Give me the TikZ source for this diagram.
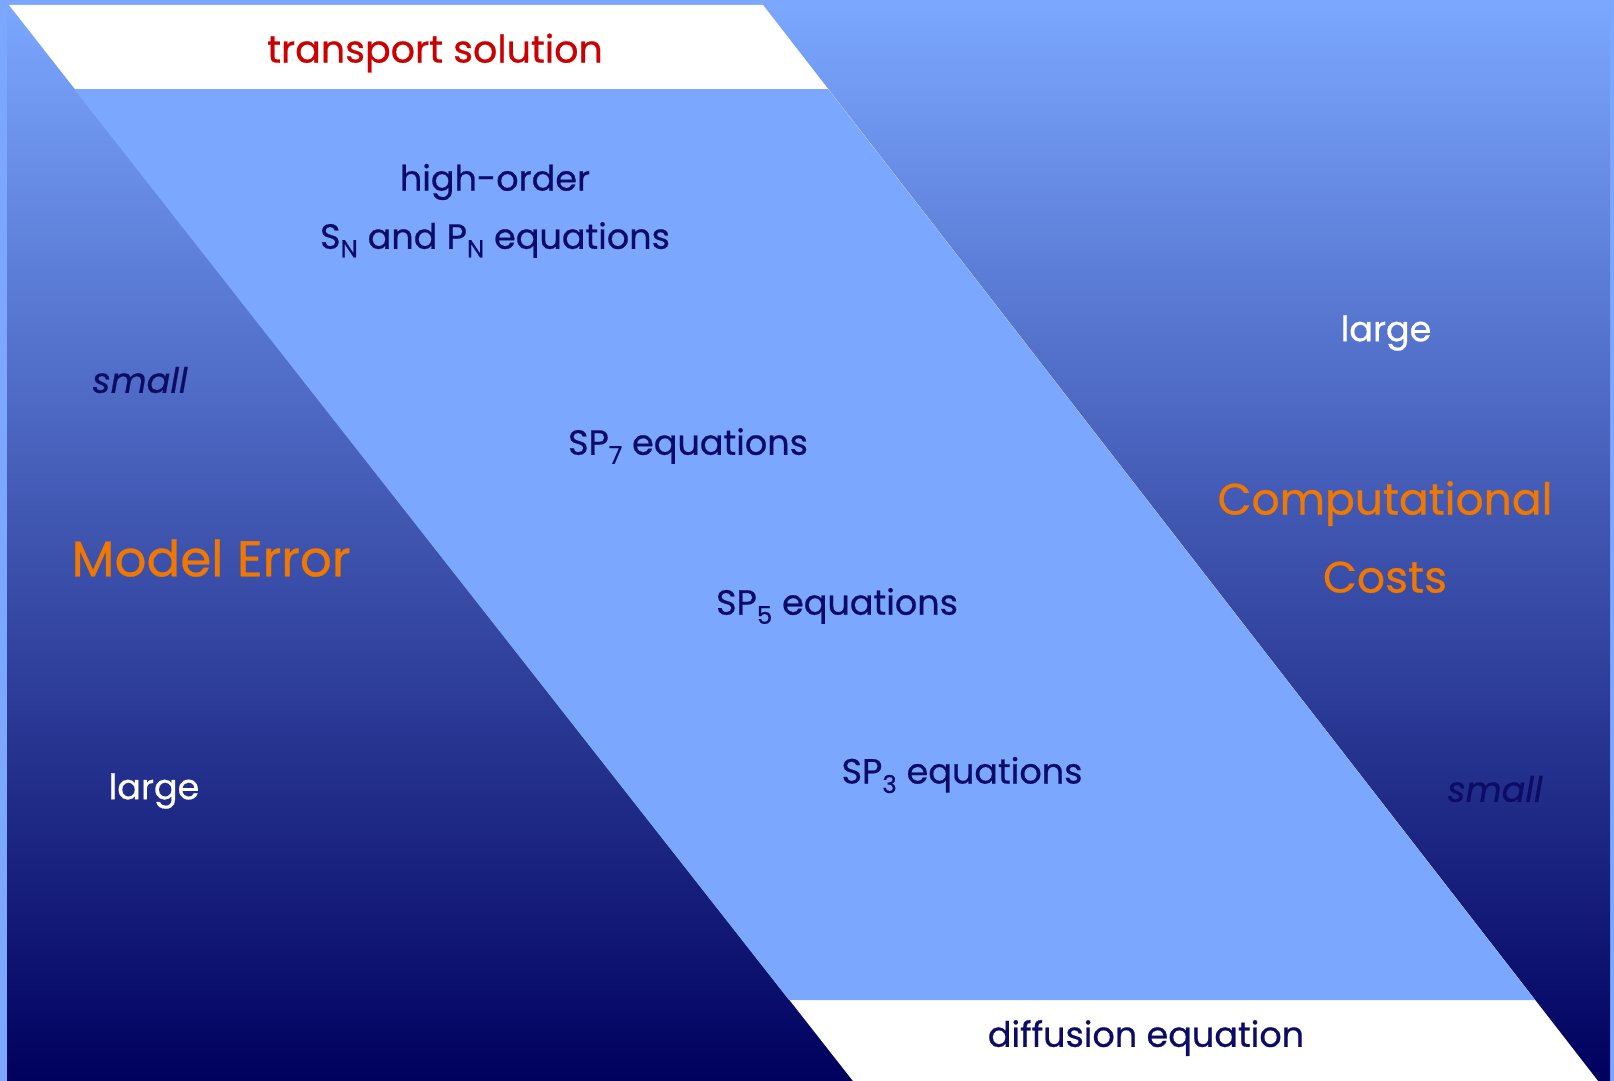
\documentclass[tikz,border=0pt]{standalone}
\usepackage{fontspec}
\setmainfont{Poppins}[FakeBold=0.6]
\definecolor{bandblue}{HTML}{7BA7FF}
\definecolor{deepnavy}{HTML}{00005E}
\definecolor{inkblue}{HTML}{0C0C66}
\definecolor{errorange}{HTML}{F07800}
\definecolor{solred}{HTML}{CC0000}
\tikzset{
  lbl/.style={inner sep=0pt, align=center, text=inkblue, font=\fontsize{35}{42}\selectfont},
  bigorange/.style={lbl, text=errorange, font=\fontsize{47}{78}\selectfont},
  whitelbl/.style={lbl, text=white},
}
\newcommand{\sbs}[1]{\textsubscript{#1}}
\begin{document}
\begin{tikzpicture}[x=1pt,y=-1pt]
  \useasboundingbox (0,0) rectangle (1614,1081);
  % frame and shaded background
  \fill[bandblue] (0,0) rectangle (1614,1081);
  \shade[top color=bandblue, bottom color=deepnavy] (7,5) rectangle (1610,1081);
  % diagonal band: white caps at top and bottom, light blue in between
  \fill[white] (9,5) -- (763,5) -- (1598,1081) -- (853,1081) -- cycle;
  \fill[bandblue] (74,89) -- (828,89) -- (1535,1000) -- (789,1000) -- cycle;

  % labels
  \node[lbl, text=solred, font=\fontsize{38}{44}\selectfont] (transport) at (435,53) {transport solution};
  \node[lbl] (highorder) at (495,182) {high-order};
  \node[lbl] (snpn) at (495,240) {S\sbs{N} and P\sbs{N} equations};
  \node[lbl] (sp7) at (688,446) {SP\sbs{7} equations};
  \node[lbl] (sp5) at (837,606) {SP\sbs{5} equations};
  \node[lbl] (sp3) at (962,775) {SP\sbs{3} equations};
  \node[lbl] (diffusion) at (1146,1038) {diffusion equation};

  \node[lbl, font=\itshape\fontsize{35}{42}\selectfont] (errsmall) at (140,380) {small};
  \node[bigorange, font=\fontsize{50}{78}\selectfont] (moderr) at (211,558) {Model Error};
  \node[whitelbl] (errlarge) at (154,791) {large};

  \node[whitelbl] (costlarge) at (1386,333) {large};
  \node[bigorange, font=\fontsize{44}{78}\selectfont] (costs) at (1385,537) {Computational\\Costs};
  \node[lbl, font=\itshape\fontsize{35}{42}\selectfont] (costsmall) at (1495,789) {small};
\end{tikzpicture}
\end{document}
